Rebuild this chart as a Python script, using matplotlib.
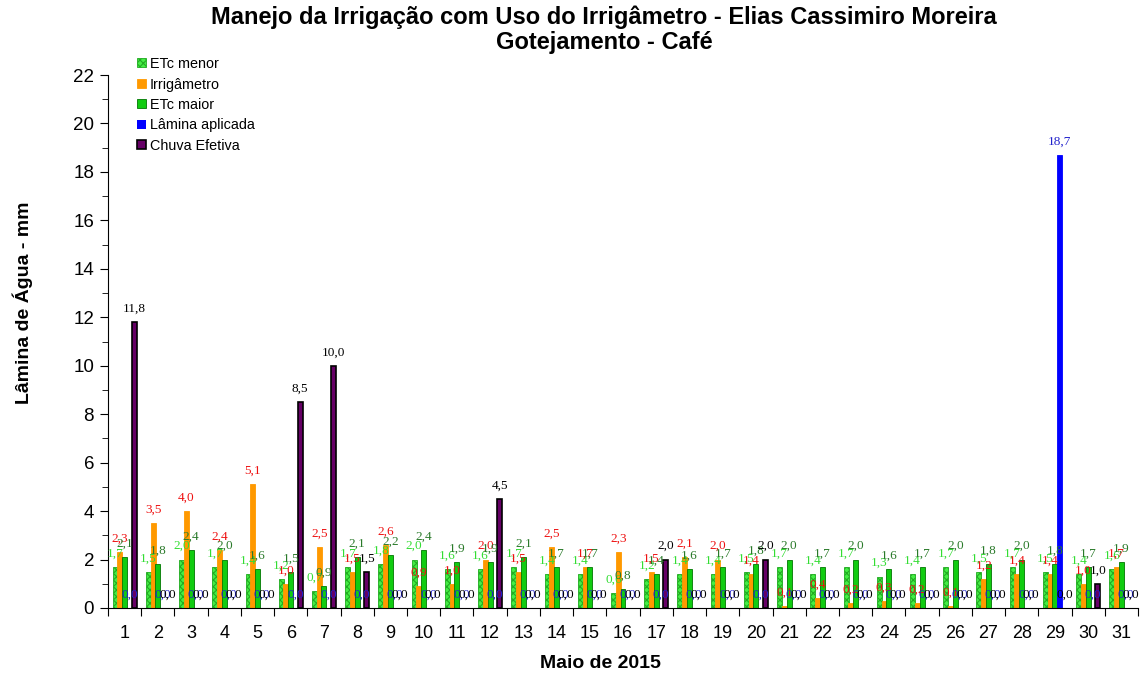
import matplotlib.pyplot as plt
import numpy as np

plt.rcParams['hatch.linewidth'] = 0.8

dias = list(range(1, 32))
etc_menor = [1.7, 1.5, 2.0, 1.7, 1.4, 1.2, 0.7, 1.7, 1.8, 2.0, 1.6, 1.6, 1.7, 1.4, 1.4, 0.6,
             1.2, 1.4, 1.4, 1.5, 1.7, 1.4, 1.7, 1.3, 1.4, 1.7, 1.5, 1.7, 1.5, 1.4, 1.6]
irrigametro = [2.3, 3.5, 4.0, 2.4, 5.1, 1.0, 2.5, 1.5, 2.6, 0.9, 1.0, 2.0, 1.5, 2.5, 1.7, 2.3,
               1.5, 2.1, 2.0, 1.4, 0.1, 0.4, 0.2, 0.3, 0.2, 0.1, 1.2, 1.4, 1.4, 1.0, 1.7]
etc_maior = [2.1, 1.8, 2.4, 2.0, 1.6, 1.5, 0.9, 2.1, 2.2, 2.4, 1.9, 1.9, 2.1, 1.7, 1.7, 0.8,
             1.4, 1.6, 1.7, 1.8, 2.0, 1.7, 2.0, 1.6, 1.7, 2.0, 1.8, 2.0, 1.8, 1.7, 1.9]
lamina = [0.0] * 28 + [18.7, 0.0, 0.0]
chuva = [11.8, 0, 0, 0, 0, 8.5, 10.0, 1.5, 0, 0, 0, 4.5, 0, 0, 0, 0,
         2.0, 0, 0, 2.0, 0, 0, 0, 0, 0, 0, 0, 0, 0, 1.0, 0]

series = [
    ('ETc menor', etc_menor, '#44ee44', '#22aa22', '#33dd33', 'xxxxx'),
    ('Irrigâmetro', irrigametro, '#ff9900', '#ff9900', '#ee1111', None),
    ('ETc maior', etc_maior, '#11cc11', '#007700', '#2a7a2a', None),
    ('Lâmina aplicada', lamina, '#0000ff', '#0000ff', '#2222cc', None),
    ('Chuva Efetiva', chuva, '#660066', '#000000', '#000000', None),
]

fig = plt.figure(figsize=(11.4, 6.77), dpi=100)
ax = fig.add_axes([108 / 1140, 69 / 677, 1030 / 1140, 533 / 677])

x = np.array(dias, dtype=float)
passo = 0.143
for k, (nome, vals, cor, borda, cor_rot, hatch) in enumerate(series):
    pos = x + (k - 2) * passo
    lw = 1.2 if nome == 'Chuva Efetiva' else 0.6
    lws = [lw if v > 0 else 0 for v in vals]
    ax.bar(pos, vals, width=0.15, color=cor, edgecolor=borda, linewidth=lws,
           hatch=hatch, label=nome, zorder=2)
    for xp, v in zip(pos, vals):
        ax.text(xp, v + 0.55, f'{v:.1f}'.replace('.', ','), ha='center', va='center',
                color=cor_rot, fontsize=9.5, family='Liberation Serif', zorder=3)

ax.set_xlim(0.5, 31.5)
ax.set_ylim(0, 22)
ax.set_yticks(np.arange(0, 23, 2))
ax.set_yticks(np.arange(0, 23, 1), minor=True)
ax.set_xticks(np.arange(0.5, 32, 1))
ax.set_xticklabels([])
ax.set_xticks(x, minor=True)
ax.set_xticklabels([str(d) for d in dias], minor=True)
ax.tick_params(axis='x', which='minor', length=0, pad=12, labelsize=13)
ax.tick_params(axis='x', which='major', length=6, direction='out')
ax.tick_params(axis='y', which='major', length=6, labelsize=13.5, pad=4)
ax.tick_params(axis='y', which='minor', length=4)
for lab in ax.get_yticklabels() + ax.get_xticklabels(minor=True):
    lab.set_family('Liberation Sans')
for s in ['top', 'right']:
    ax.spines[s].set_visible(False)

fig.text(23 / 1140, 1 - 303 / 677, 'Lâmina de Água - mm', rotation=90, ha='center',
         va='center', fontsize=14, fontweight='bold', family='Liberation Sans')
fig.text(600 / 1140, 1 - 664 / 677, 'Maio de 2015', ha='center', va='center',
         fontsize=14, fontweight='bold', family='Liberation Sans')
fig.text(604 / 1140, 1 - 30 / 677,
         'Manejo da Irrigação com Uso do Irrigâmetro - Elias Cassimiro Moreira\nGotejamento - Café',
         ha='center', va='center', fontsize=17, fontweight='bold',
         family='Liberation Sans', linespacing=1.09)

leg = ax.legend(loc='upper left', bbox_to_anchor=(124 / 1140, 1 - 44 / 677),
                bbox_transform=fig.transFigure, frameon=False, handlelength=0.6,
                handleheight=0.6, handletextpad=0.3, labelspacing=0.45,
                prop={'family': 'Liberation Sans', 'size': 10.4})

fig.savefig('out.png', dpi=100)
